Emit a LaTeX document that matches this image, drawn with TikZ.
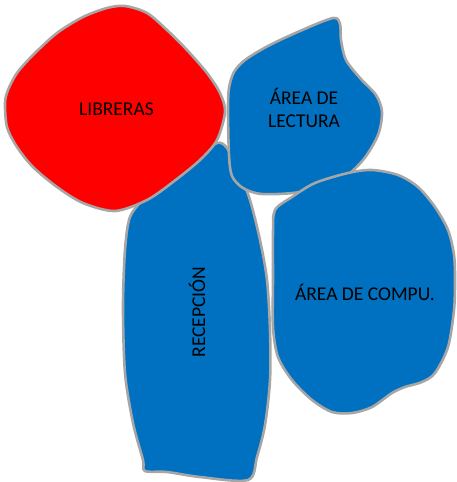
\documentclass[tikz,border=0pt]{standalone}
\usepackage{fontspec}
\setmainfont{Carlito}
\definecolor{zonered}{RGB}{255,0,0}
\definecolor{zoneblue}{RGB}{0,112,192}
\definecolor{zonegray}{RGB}{166,166,166}
\tikzset{
  zone/.style={draw=zonegray, line width=2.6pt, line join=round},
  zonetext/.style={font=\fontsize{19.5}{23.3}\selectfont, text=black, inner sep=0pt}
}

\begin{document}
\begin{tikzpicture}[x=1pt, y=-1pt]
\useasboundingbox (0,0) rectangle (456,482);

\draw [zone, fill=zoneblue] plot [smooth cycle, tension=0.5] coordinates {
  (217,143) (227,148) (240,175) (250,200) (260,240) (267,280) (270,330) (270,380)
  (265,425) (257,457) (248,480) (200,477) (167,472) (145,471) (143,460) (133,423)
  (125,373) (123,307) (125,250) (130,217) (145,198) (170,178) (200,155)};

\draw [zone, fill=zonered] plot [smooth cycle, tension=0.5] coordinates {
  (125,6) (147,13) (167,30) (187,50) (207,73) (220,93) (225,112) (217,140)
  (200,160) (173,182) (147,200) (115,211) (83,203) (57,187) (33,167) (17,147)
  (7,127) (5,103) (8,90) (17,73) (33,55) (57,33) (83,17) (107,8)};

\draw [zone, fill=zoneblue] plot [smooth cycle, tension=0.5] coordinates {
  (333,18) (340,24) (341,40) (346,60) (360,78) (376,95) (382,112) (378,135)
  (363,160) (340,180) (300,192) (262,194) (243,188) (232,176) (229,155) (228,110)
  (229,88) (234,72) (245,60) (268,46) (300,31)};

\draw [zone, fill=zoneblue] plot [smooth cycle, tension=0.5] coordinates {
  (275,210) (292,197) (315,183) (348,173) (372,170) (398,175) (418,187) (435,207)
  (448,230) (454,255) (455,280) (454,310) (448,347) (435,373) (422,382) (405,387)
  (392,393) (372,407) (352,413) (332,412) (312,400) (292,380) (278,357) (273,327)
  (273,277) (273,233)};

\node (libreras) [zonetext, anchor=base] at (116.5,115) {LIBRERAS};
\node (lectura) [zonetext, align=center] at (304,108) {ÁREA DE\\LECTURA};
\node (recepcion) [zonetext, anchor=base, rotate=90] at (205,312) {RECEPCIÓN};
\node (compu) [zonetext, anchor=base] at (365,300) {ÁREA DE COMPU.};
\end{tikzpicture}
\end{document}
